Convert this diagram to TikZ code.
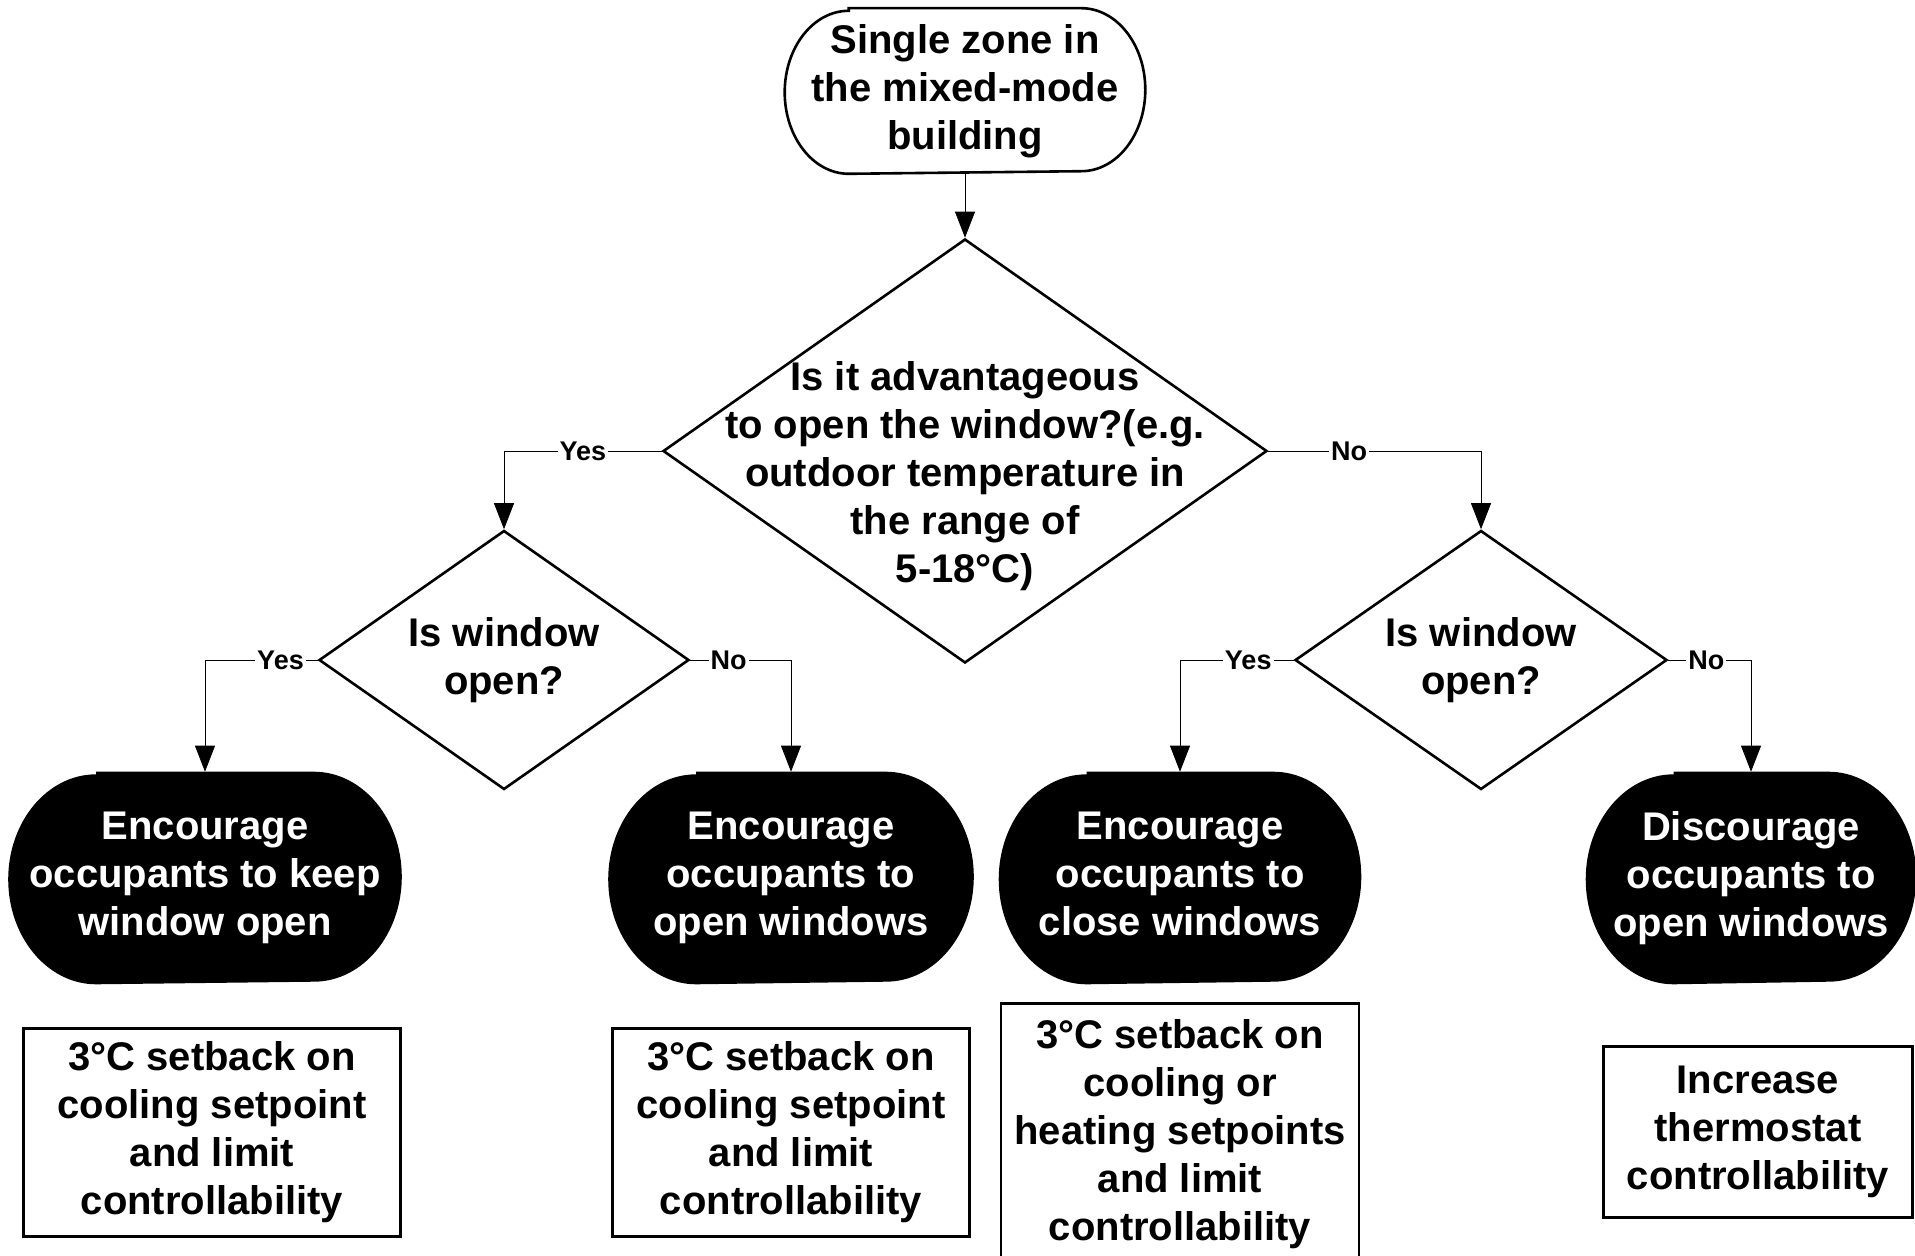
\documentclass[tikz,border=0pt]{standalone}
\usepackage{fontspec}
\setmainfont{Liberation Sans}
\usetikzlibrary{shapes.geometric, arrows.meta, positioning, backgrounds}

\begin{document}
\begin{tikzpicture}[x=0.5pt, y=0.5pt,
            font=\fontsize{20}{24}\selectfont\bfseries,
            line width=1.3pt,
            startnode/.style={minimum width=179pt, minimum height=81.5pt, align=center, inner sep=0pt},
            decision/.style={draw, diamond, inner sep=0pt},
            qtext/.style={align=center, inner sep=0pt},
            outcome/.style={text=white, minimum height=105pt, align=center, inner sep=0pt},
            action/.style={draw, line width=1.2pt, align=center, inner sep=0pt},
            arr/.style={-{Triangle[width=10pt,length=13pt]}},
            lbl/.style={fill=white, inner sep=1pt, font=\fontsize{13.5}{16}\selectfont\bfseries}]
            \useasboundingbox (0,0) rectangle (1915,1255);

            \node[startnode] (zone) at (965,1164) {Single zone in\\the mixed-mode\\building};
            \draw ([xshift=32pt]zone.north west) -- ([xshift=-32pt]zone.north east)
                arc[start angle=90, end angle=-90, x radius=32pt, y radius=40.75pt]
                -- ([xshift=32pt]zone.south west)
                arc[start angle=270, end angle=90, x radius=32pt, y radius=40.75pt] -- cycle;

            \node[decision, minimum width=302pt, minimum height=212pt] (adv) at (965,804) {};
            \node[qtext] at ([yshift=-12.5pt]adv.center) {Is it advantageous\\to open the window?(e.g.\\outdoor temperature in\\the range of\\5-18°C)};

            \node[decision, minimum width=185pt, minimum height=129.5pt] (openL) at (504,595) {};
            \node[qtext] at (openL) {Is window\\open?};
            \node[decision, minimum width=186pt, minimum height=129.5pt] (openR) at (1481,595) {};
            \node[qtext] at (openR) {Is window\\open?};

            \node[outcome, minimum width=195.5pt] (keep) at (205,377) {Encourage\\occupants to keep\\window open};
            \node[outcome, minimum width=181.5pt] (enc) at (791,377) {Encourage\\occupants to\\open windows};
            \node[outcome, minimum width=180pt] (close) at (1180,377) {Encourage\\occupants to\\close windows\vphantom{p}};
            \node[outcome, minimum width=164pt] (disc) at (1751,377) {Discourage\\occupants to\\open windows};
            \begin{pgfonlayer}{background}
                \foreach \n in {keep,enc,close,disc} {
                    \fill ([xshift=44pt]\n.north west) -- ([xshift=-44pt]\n.north east)
                        arc[start angle=90, end angle=-90, x radius=44pt, y radius=52.5pt]
                        -- ([xshift=44pt]\n.south west)
                        arc[start angle=270, end angle=90, x radius=44pt, y radius=52.5pt] -- cycle;
                }
            \end{pgfonlayer}

            \node[action, minimum width=188.5pt, minimum height=104pt, below=21.5pt of keep, xshift=3.5pt] (setL) {3°C setback on\\cooling setpoint\\and limit\\controllability};
            \node[action, minimum width=178.5pt, minimum height=104pt, below=21.5pt of enc] (setM) {3°C setback on\\cooling setpoint\\and limit\\controllability};
            \node[action, minimum width=179pt, minimum height=130.5pt, below=9pt of close] (setR) {3°C setback on\\cooling or\\heating setpoints\\and limit\\controllability};
            \node[action, minimum width=154.5pt, minimum height=85.5pt, below=30.5pt of disc, xshift=3.5pt] (thermo) {Increase\\thermostat\\controllability};

            \draw[arr] (zone) -- (adv);
            \draw[arr] (adv.west) -| node[lbl, pos=0.25] {Yes} (openL.north);
            \draw[arr] (adv.east) -| node[lbl, pos=0.19] {No} (openR.north);
            \draw[arr] (openL.west) -| node[lbl, pos=0.165] {Yes} (keep.north);
            \draw[arr] (openL.east) -| node[lbl, pos=0.19] {No} (enc.north);
            \draw[arr] (openR.west) -| node[lbl, pos=0.2] {Yes} (close.north);
            \draw[arr] (openR.east) -| node[lbl, pos=0.23] {No} (disc.north);
        \end{tikzpicture}
\end{document}
